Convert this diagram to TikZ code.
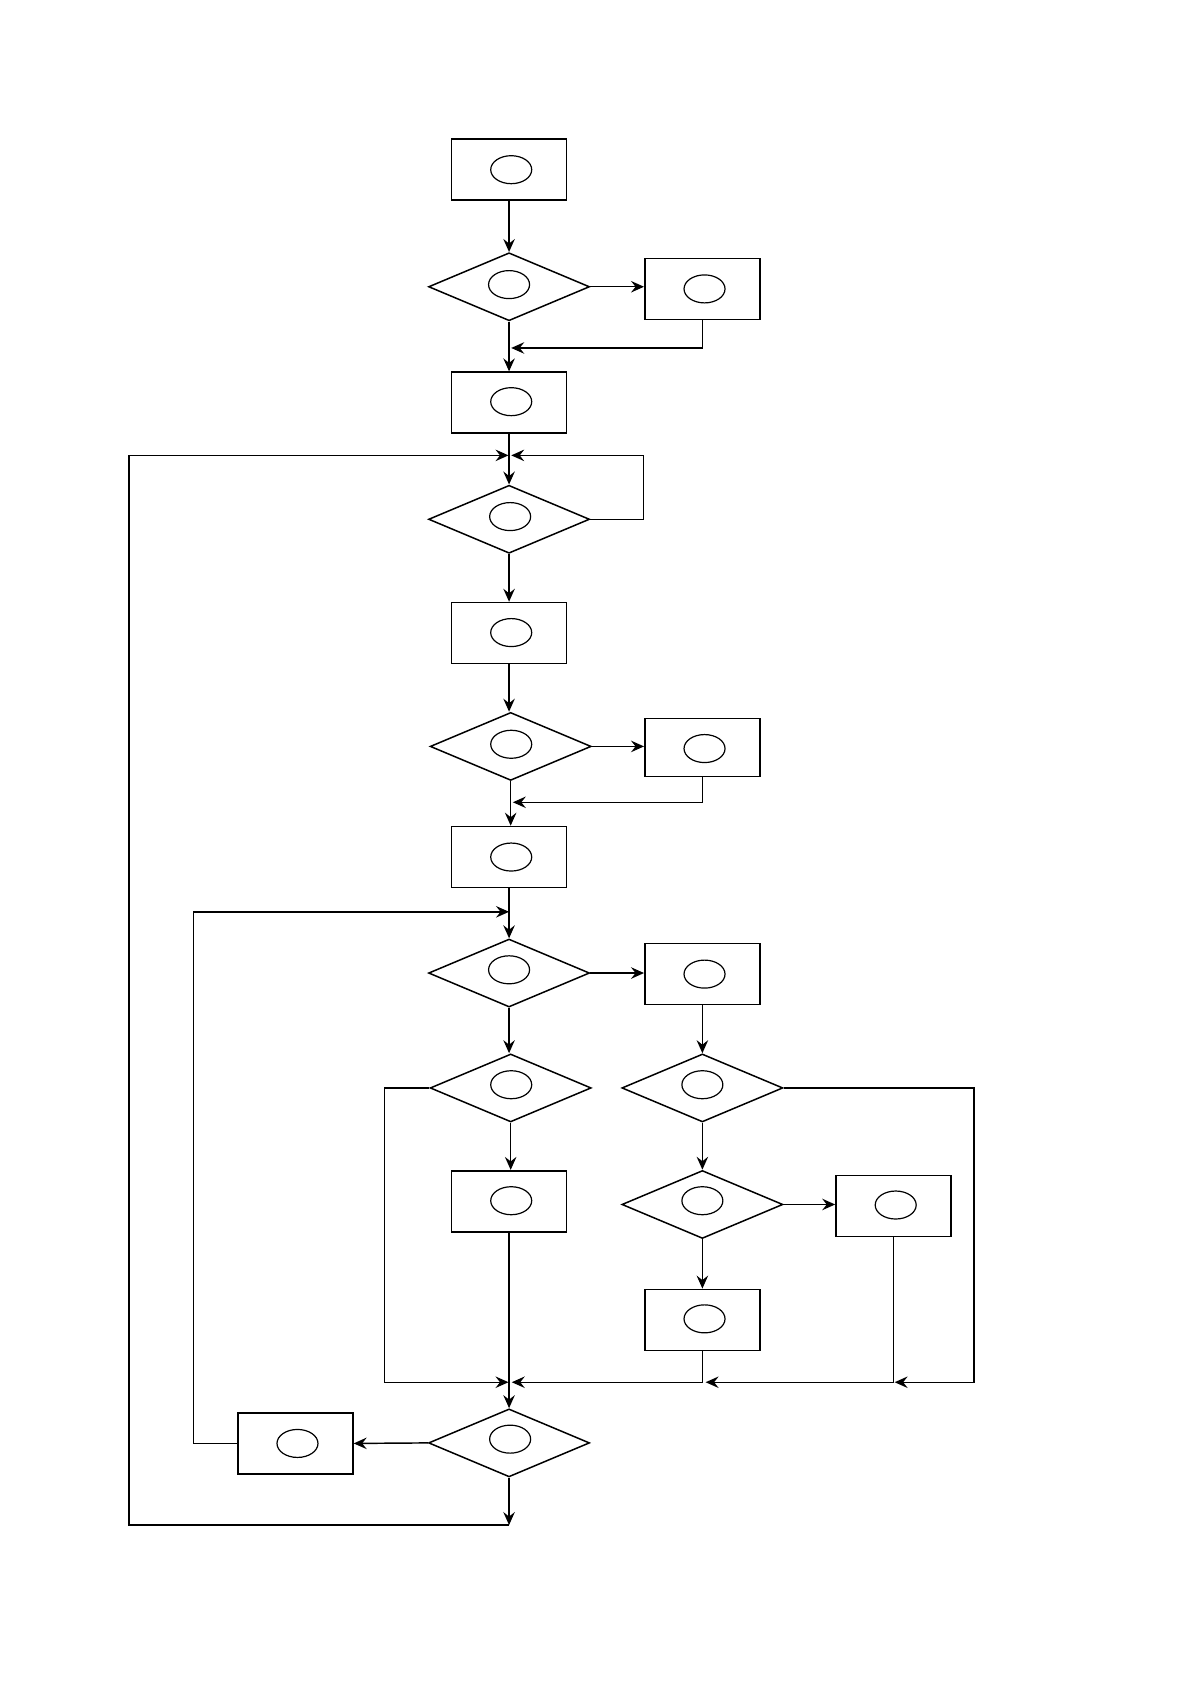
\documentclass[tikz,border=0pt]{standalone}
\usetikzlibrary{shapes.geometric,arrows.meta}
\begin{document}
\begin{tikzpicture}[x=1.074pt,y=-1.074pt,
  proc/.style={draw,line width=1.7pt,rectangle,minimum width=115pt,minimum height=61pt,inner sep=0pt},
  dec/.style={draw,line width=1.5pt,diamond,minimum width=161pt,minimum height=68pt,inner sep=0pt},
  oval/.style={draw,line width=1.2pt,ellipse,minimum width=41pt,minimum height=28pt,inner sep=0pt},
  conn/.style={line width=1.45pt},
  arr/.style={conn,-{Stealth[length=13pt,width=11.5pt,inset=4.5pt]}}]
\useasboundingbox (0,0) rectangle (1108,1568);
% nodes
\node[proc] (b1) at (474,158) {};
\node[oval] (o1) at (476,158) {};
\node[dec] (d1) at (474,267) {};
\node[oval] (o2) at (474,265) {};
\node[proc] (b2) at (654,269) {};
\node[oval] (o3) at (656,269) {};
\node[proc] (b3) at (474,375) {};
\node[oval] (o4) at (476,374) {};
\node[dec] (d2) at (474,483.5) {};
\node[oval] (o5) at (475,481) {};
\node[proc] (b4) at (474,589.5) {};
\node[oval] (o6) at (476,589) {};
\node[dec] (d3) at (475.5,695) {};
\node[oval] (o7) at (476,693) {};
\node[proc,minimum height=58pt] (b5) at (654,696) {};
\node[oval] (o8) at (656,697) {};
\node[proc] (b6) at (474,798) {};
\node[oval] (o9) at (476,798) {};
\node[dec] (d4) at (474,906) {};
\node[oval] (o10) at (474,903) {};
\node[proc] (b7) at (654,907) {};
\node[oval] (o11) at (656,907) {};
\node[dec] (d5) at (475.5,1013) {};
\node[oval] (o12) at (476,1010) {};
\node[dec] (d6) at (654,1013) {};
\node[oval] (o13) at (654,1010) {};
\node[proc] (b8) at (474,1118.5) {};
\node[oval] (o14) at (476,1118) {};
\node[dec] (d8) at (654,1121.5) {};
\node[oval] (o15) at (654,1118) {};
\node[proc] (b9) at (832,1123) {};
\node[oval] (o16) at (834,1122) {};
\node[proc] (b10) at (654,1229) {};
\node[oval] (o17) at (656,1228) {};
\node[dec] (d7) at (474,1343.5) {};
\node[oval] (o18) at (475,1340) {};
\node[proc] (b11) at (275,1344) {};
\node[oval] (o19) at (277,1344) {};
% junction coordinates
\coordinate (m1) at (476,324);
\coordinate (j1) at (473.5,424);
\coordinate (j1r) at (476,424);
\coordinate (rc) at (599,424);
\coordinate (m2) at (477.5,747);
\coordinate (j2) at (474,849);
\coordinate (lc) at (358,1013);
\coordinate (j3) at (473.5,1287);
\coordinate (j3b) at (476.5,1287);
\coordinate (j4) at (657,1287);
\coordinate (rc2) at (907,1013);
\coordinate (j5) at (833,1287);
\coordinate (lc2) at (180,849);
\coordinate (ex) at (474,1420);
\coordinate (lc3) at (120,424);
% connectors
\draw[arr] (b1) -- (d1);
\draw[arr] (d1.east) -- (d1.east -| b2.west);
\draw[arr] (b2.south) |- (m1);
\draw[arr] (d1.south) -- (b3.north);
\draw[arr] (b3.south) -- (d2.north);
\draw[arr] (d2.east) -| (rc) -- (j1r);
\draw[arr] (d2.south) -- (b4.north);
\draw[arr] (b4.south) -- (b4.south |- d3.north);
\draw[arr] (d3.east) -- (d3.east -| b5.west);
\draw[arr] (b5.south) |- (m2);
\draw[arr] (d3.south) -- (d3.south |- b6.north);
\draw[arr] (b6.south) -- (d4.north);
\draw[arr] (d4.east) -- (d4.east -| b7.west);
\draw[arr] (d4.south) -- (d4.south |- d5.north);
\draw[arr] (b7.south) -- (d6.north);
\draw[arr] (d5.south) -- (d5.south |- b8.north);
\draw[arr] (d6.south) -- (d8.north);
\draw[arr] (d8.east) -- (d8.east -| b9.west);
\draw[arr] (d8.south) -- (b10.north);
\draw[arr] (b8.south) -- (d7.north);
\draw[arr] (d5.west) -- (lc) |- (j3);
\draw[arr] (b10.south) |- (j3b);
\draw[arr] (b9.south) |- (j4);
\draw[arr] (d6.east) -- (rc2) |- (j5);
\draw[arr] (d7.west) -- (b11.east);
\draw[arr] (b11.west) -| (lc2) -- (j2);
\draw[arr] (d7.south) -- (ex);
\draw[arr] (ex) -| (lc3) -- (j1);
\end{tikzpicture}
\end{document}
